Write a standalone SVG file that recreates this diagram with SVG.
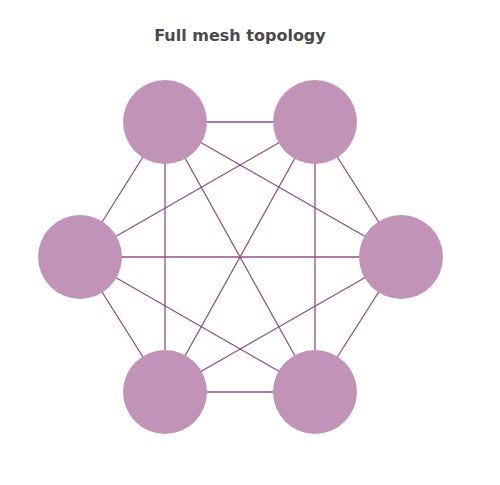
<svg xmlns="http://www.w3.org/2000/svg" width="500" height="485" viewBox="0 0 500 485">
<style>
.t{font-family:"DejaVu Sans",Verdana,sans-serif;font-weight:bold;font-size:16px;fill:#4a4a4a;text-anchor:middle}
.e line{stroke:#8e4f85;stroke-width:1.3}
.n{fill:#c194b7}
</style>
<rect width="500" height="485" fill="#fff"/>
<text class="t" x="240" y="41">Full mesh topology</text>
<g id="connectors" class="e">
<line x1="165" y1="122" x2="315" y2="122"/>
<line x1="165" y1="122" x2="80" y2="257"/>
<line x1="165" y1="122" x2="401" y2="257"/>
<line x1="165" y1="122" x2="165" y2="392"/>
<line x1="165" y1="122" x2="315" y2="392"/>
<line x1="315" y1="122" x2="80" y2="257"/>
<line x1="315" y1="122" x2="401" y2="257"/>
<line x1="315" y1="122" x2="165" y2="392"/>
<line x1="315" y1="122" x2="315" y2="392"/>
<line x1="80" y1="257" x2="401" y2="257"/>
<line x1="80" y1="257" x2="165" y2="392"/>
<line x1="80" y1="257" x2="315" y2="392"/>
<line x1="401" y1="257" x2="165" y2="392"/>
<line x1="401" y1="257" x2="315" y2="392"/>
<line x1="165" y1="392" x2="315" y2="392"/>
</g>
<g id="n1"><circle class="n" cx="165" cy="122" r="42"/></g>
<g id="n2"><circle class="n" cx="315" cy="122" r="42"/></g>
<g id="n3"><circle class="n" cx="80" cy="257" r="42"/></g>
<g id="n4"><circle class="n" cx="401" cy="257" r="42"/></g>
<g id="n5"><circle class="n" cx="165" cy="392" r="42"/></g>
<g id="n6"><circle class="n" cx="315" cy="392" r="42"/></g>
</svg>
